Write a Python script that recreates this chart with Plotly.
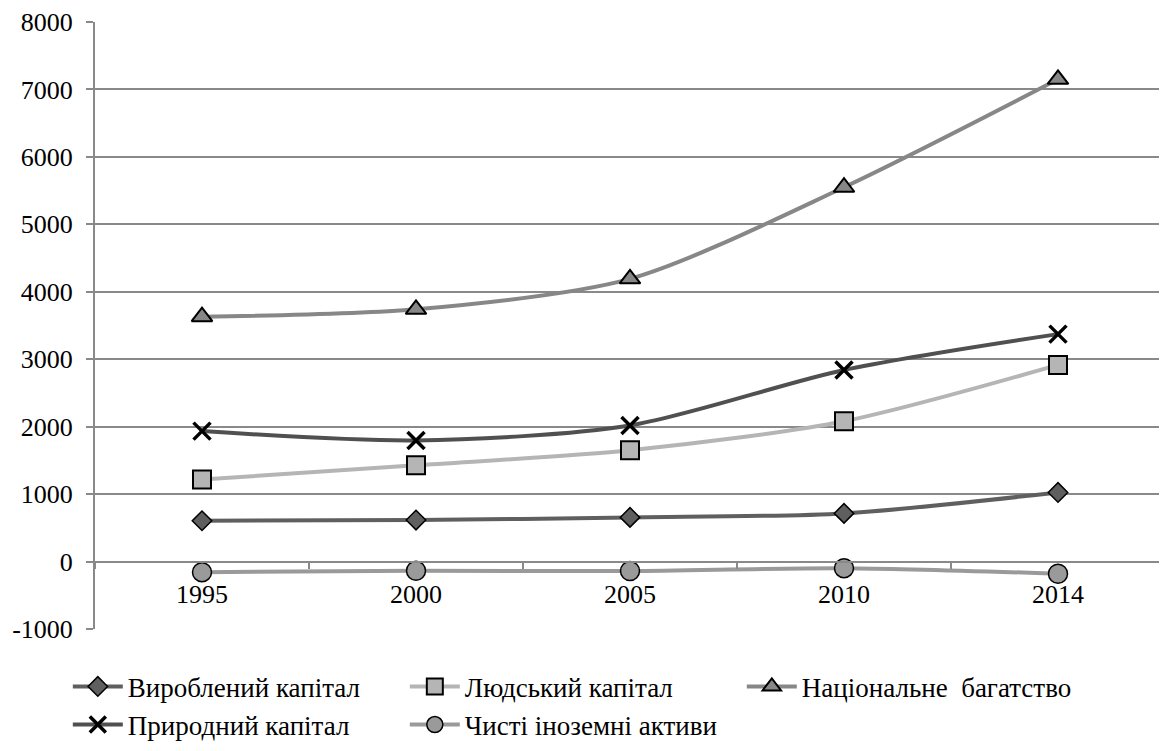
import plotly.graph_objects as go

years = ["1995", "2000", "2005", "2010", "2014"]
produced = [605, 615, 655, 714, 1025]
human = [1216, 1427, 1649, 2081, 2916]
national = [3630, 3740, 4192, 5550, 7150]
natural = [1934, 1796, 2018, 2840, 3372]
foreign = [-157, -137, -140, -98, -180]

ytick_vals = [-1000, 0, 1000, 2000, 3000, 4000, 5000, 6000, 7000, 8000]
ytick_text = ["-1000", "0", "1000", "2000", "3000", "4000", "5000", "6000", "7000", "8000"]

names = ["Вироблений капітал", "Людський капітал", "Національне  багатство",
         "Природний капітал", "Чисті іноземні активи"]

fig = go.Figure()
fig.add_trace(go.Scatter(x=years, y=produced, name=names[0], mode="lines+markers",
    line=dict(color="#5f5f5f", width=4, shape="spline", smoothing=0.8),
    marker=dict(symbol="diamond", size=15, color="#5f5f5f", line=dict(color="#000", width=1.5))))
fig.add_trace(go.Scatter(x=years, y=human, name=names[1], mode="lines+markers",
    line=dict(color="#b5b5b5", width=4, shape="spline", smoothing=0.8),
    marker=dict(symbol="square", size=18, color="#b5b5b5", line=dict(color="#000", width=2))))
fig.add_trace(go.Scatter(x=years, y=national, name=names[2], mode="lines+markers",
    line=dict(color="#878787", width=4, shape="spline", smoothing=0.8),
    marker=dict(symbol="triangle-up", size=18, color="#878787", line=dict(color="#000", width=2))))
fig.add_trace(go.Scatter(x=years, y=natural, name=names[3], mode="lines+markers",
    line=dict(color="#505050", width=4, shape="spline", smoothing=0.8),
    marker=dict(symbol="x-thin", size=17, color="#000", line=dict(color="#000", width=3.5))))
fig.add_trace(go.Scatter(x=years, y=foreign, name=names[4], mode="lines+markers",
    line=dict(color="#9a9a9a", width=4, shape="spline", smoothing=0.8),
    marker=dict(symbol="circle", size=19, color="#9a9a9a", line=dict(color="#000", width=1.5))))

font = "Liberation Serif"

# page body has an 8px default margin, so the figure is sized to fill the rest
fig.update_layout(
    width=1159, height=743,
    paper_bgcolor="white", plot_bgcolor="white",
    margin=dict(l=87, r=2, t=14, b=117),
    font=dict(family=font, size=26, color="#000"),
    showlegend=True,
    legend=dict(orientation="h", x=-0.0254, xanchor="left", y=-0.055, yanchor="top",
                entrywidth=272, itemwidth=50, traceorder="normal",
                font=dict(family=font, size=27, color="#000")),
    xaxis=dict(type="category", range=[-0.5, 4.5], anchor="free", position=1000/9000,
               automargin=False,
               showline=True, linecolor="#898989", linewidth=2,
               ticks="outside", tickson="boundaries", ticklen=6, tickcolor="#898989", tickwidth=2,
               ticklabelstandoff=9,
               showgrid=False, tickfont=dict(family=font, size=26, color="#000")),
    yaxis=dict(range=[-1000, 8000], automargin=False,
               tickmode="array", tickvals=ytick_vals, ticktext=ytick_text,
               showline=True, linecolor="#898989", linewidth=2,
               ticks="outside", ticklen=7, tickcolor="#898989", tickwidth=2,
               ticklabelstandoff=8,
               showgrid=True, gridcolor="#898989", gridwidth=2, zeroline=False,
               tickfont=dict(family=font, size=26, color="#000")),
)

fig.write_html("out.html")
